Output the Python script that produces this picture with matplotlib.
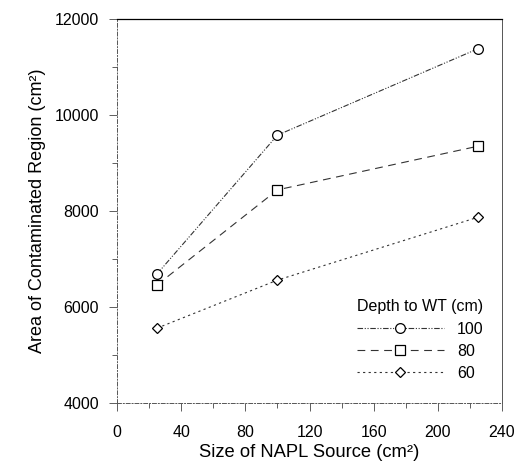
import numpy as np
import matplotlib.pyplot as plt
from matplotlib.ticker import MultipleLocator

plt.rcParams['font.family'] = ['Liberation Sans', 'DejaVu Sans']

# NAPL source size (cm2)
source_size = [25, 100, 225]
# contaminated area (cm2) for each depth to water table
area_100 = [6690, 9580, 11380]
area_80 = [6460, 8440, 9350]
area_60 = [5560, 6560, 7870]

fig = plt.figure(figsize=(5.16, 4.66), dpi=100)
ax = fig.add_axes([117 / 516, 63 / 466, 385 / 516, 384 / 466])

ax.plot(source_size, area_100, color='#333333', lw=0.8,
        ls=(0, (5, 1.5, 1, 1.5, 1, 1.5)), marker='o', ms=7, mfc='white',
        mec='black', mew=0.9, label='100')
ax.plot(source_size, area_80, color='#333333', lw=0.8,
        ls=(0, (7, 5)), marker='s', ms=7, mfc='white',
        mec='black', mew=0.9, label='80')
ax.plot(source_size, area_60, color='#333333', lw=0.8,
        ls=(0, (2, 3)), marker='D', ms=5.5, mfc='white',
        mec='black', mew=0.9, label='60')

ax.set_xlim(0, 240)
ax.set_ylim(4000, 12000)
ax.xaxis.set_major_locator(MultipleLocator(40))
ax.xaxis.set_minor_locator(MultipleLocator(20))
ax.yaxis.set_major_locator(MultipleLocator(2000))
ax.yaxis.set_minor_locator(MultipleLocator(1000))
ax.tick_params(which='both', direction='out', labelsize=11.5, width=0.6,
               color='#444444')
ax.tick_params(which='major', length=6)
ax.tick_params(which='minor', length=3.5)
ax.tick_params(axis='x', which='major', pad=10)
ax.tick_params(axis='y', which='major', pad=7)

for side in ['left', 'bottom', 'right']:
    ax.spines[side].set_linewidth(0.7)
    ax.spines[side].set_color('#555555')
ax.spines['left'].set_linestyle((0, (4, 2, 1, 2)))
ax.spines['bottom'].set_linestyle((0, (4, 2, 1, 2)))
ax.spines['top'].set_linewidth(0.9)

ax.set_xlabel('Size of NAPL Source (cm²)', fontsize=13.2, labelpad=3)
ax.set_ylabel('Area of Contaminated Region (cm²)', fontsize=13, labelpad=6)

leg = ax.legend(title='Depth to WT (cm)', loc='lower right', frameon=False,
                fontsize=11.5, title_fontsize=11.5, handlelength=5.5,
                bbox_to_anchor=(0.99, 0.02), labelspacing=0.45)

fig.savefig('out.png', dpi=100)
